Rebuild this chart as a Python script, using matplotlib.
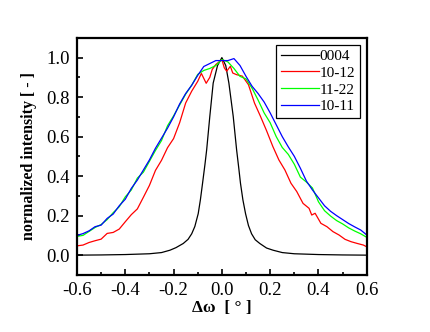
import matplotlib
matplotlib.use("Agg")
import matplotlib.pyplot as plt
from matplotlib.ticker import MultipleLocator

plt.rcParams["font.family"] = ["Liberation Serif", "DejaVu Serif"]

# ---- data ----
x_0004 = [-0.6, -0.5, -0.4, -0.3, -0.25, -0.215, -0.19, -0.16, -0.14, -0.125,
          -0.112, -0.098, -0.089, -0.08, -0.07, -0.063, -0.05, -0.036, -0.018, 0.0,
          0.016, 0.029, 0.047, 0.061, 0.07, 0.077, 0.087, 0.098, 0.11, 0.123,
          0.138, 0.157, 0.185, 0.212, 0.25, 0.3, 0.4, 0.5, 0.6]
y_0004 = [0.0, 0.001, 0.003, 0.007, 0.013, 0.025, 0.038, 0.059, 0.08, 0.108,
          0.145, 0.21, 0.28, 0.364, 0.46, 0.533, 0.702, 0.871, 0.96, 1.0,
          0.96, 0.871, 0.702, 0.533, 0.44, 0.364, 0.28, 0.21, 0.15, 0.108,
          0.078, 0.059, 0.036, 0.025, 0.013, 0.007, 0.003, 0.001, 0.0]

x_1012 = [-0.6, -0.575, -0.55, -0.525, -0.5, -0.475, -0.45, -0.425, -0.4, -0.375,
          -0.35, -0.325, -0.3, -0.275, -0.25, -0.225, -0.2, -0.175, -0.15, -0.125,
          -0.1, -0.085, -0.065, -0.05, -0.04, -0.025, 0.0, 0.01, 0.02, 0.035,
          0.045, 0.06, 0.085, 0.11, 0.135, 0.16, 0.185, 0.211, 0.236, 0.261,
          0.286, 0.31, 0.336, 0.361, 0.372, 0.386, 0.41, 0.435, 0.46, 0.485,
          0.51, 0.535, 0.561, 0.586, 0.6]
y_1012 = [0.047, 0.051, 0.064, 0.073, 0.081, 0.11, 0.115, 0.132, 0.169, 0.205,
          0.234, 0.293, 0.353, 0.429, 0.48, 0.544, 0.59, 0.67, 0.77, 0.83,
          0.88, 0.92, 0.87, 0.9, 0.94, 0.965, 0.99, 0.948, 0.931, 0.956,
          0.922, 0.914, 0.906, 0.863, 0.77, 0.702, 0.63, 0.55, 0.482, 0.431,
          0.364, 0.322, 0.262, 0.237, 0.203, 0.212, 0.161, 0.144, 0.119, 0.102,
          0.08, 0.068, 0.059, 0.051, 0.042]

x_grid = [-0.6, -0.575, -0.55, -0.525, -0.5, -0.475, -0.45, -0.425, -0.4, -0.375,
          -0.35, -0.325, -0.3, -0.275, -0.25, -0.225, -0.2, -0.175, -0.15, -0.125,
          -0.1, -0.075, -0.05, -0.025, 0.0, 0.025, 0.05, 0.075, 0.1, 0.125,
          0.15, 0.175, 0.2, 0.225, 0.25, 0.275, 0.3, 0.325, 0.35, 0.375,
          0.4, 0.425, 0.45, 0.475, 0.5, 0.525, 0.55, 0.575, 0.6]
y_1122 = [0.095, 0.1, 0.12, 0.14, 0.155, 0.18, 0.215, 0.245, 0.295, 0.33,
          0.39, 0.42, 0.475, 0.53, 0.58, 0.655, 0.705, 0.76, 0.815, 0.86,
          0.915, 0.935, 0.945, 0.96, 0.99, 0.978, 0.945, 0.905, 0.892, 0.845,
          0.785, 0.72, 0.67, 0.6, 0.545, 0.51, 0.46, 0.395, 0.37, 0.34,
          0.27, 0.225, 0.198, 0.175, 0.158, 0.138, 0.122, 0.108, 0.09]
y_1011 = [0.1, 0.109, 0.123, 0.144, 0.152, 0.186, 0.208, 0.25, 0.283, 0.338,
          0.38, 0.431, 0.482, 0.541, 0.592, 0.643, 0.7, 0.765, 0.818, 0.86,
          0.91, 0.955, 0.97, 0.985, 0.985, 0.985, 0.995, 0.96, 0.905, 0.855,
          0.818, 0.775, 0.72, 0.66, 0.6, 0.548, 0.5, 0.44, 0.375, 0.33,
          0.29, 0.25, 0.222, 0.2, 0.18, 0.16, 0.143, 0.127, 0.102]

fig = plt.figure(figsize=(4.30, 3.32), dpi=100)
ax = fig.add_axes([0.179, 0.172, 0.674, 0.714])

lw = 0.9
ax.plot(x_0004, y_0004, color="black", lw=lw, label="0004")
ax.plot(x_1012, y_1012, color="red", lw=lw, label="10-12")
ax.plot(x_grid, y_1122, color="#00ff00", lw=lw, label="11-22")
ax.plot(x_grid, y_1011, color="blue", lw=lw, label="10-11")

ax.set_xlim(-0.6, 0.6)
ax.set_ylim(-0.1, 1.1)
ax.xaxis.set_minor_locator(MultipleLocator(0.1))
ax.yaxis.set_major_locator(MultipleLocator(0.2))
ax.yaxis.set_minor_locator(MultipleLocator(0.1))
ax.set_xticks([-0.6, -0.4, -0.2, 0.0, 0.2, 0.4, 0.6])
ax.set_xticklabels(["-0.6", "-0.4", "-0.2", "0.0", "0.2", "0.4", "0.6"])
ax.tick_params(which="both", direction="in", top=False, right=False,
               labelsize=13.5, width=1.2)
ax.tick_params(which="major", length=4, pad=5)
ax.tick_params(which="minor", length=2)
for s in ax.spines.values():
    s.set_linewidth(1.6)

ax.set_xlabel("Δω  [ ° ]", fontsize=12.5, fontweight="bold", labelpad=1)
ax.set_ylabel("normalized intensity [ - ]", fontsize=11.5, fontweight="bold", labelpad=7)

leg = ax.legend(loc="upper right", fontsize=11, frameon=True, fancybox=False,
                edgecolor="black", framealpha=1, handlelength=2.5,
                handletextpad=0.05, borderpad=0.3, labelspacing=0.2,
                borderaxespad=0.45)
leg.get_frame().set_linewidth(0.9)

fig.savefig("out.png", dpi=100)
